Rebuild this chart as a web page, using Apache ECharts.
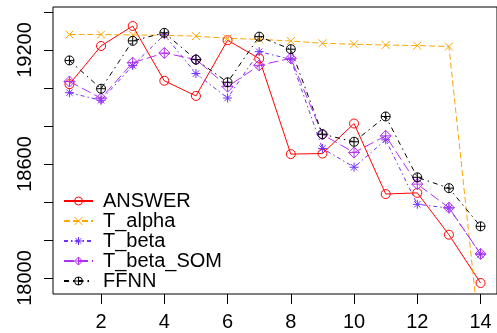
<!DOCTYPE html>
<html>
<head>
<meta charset="utf-8">
<script src="https://cdn.jsdelivr.net/npm/echarts@6/dist/echarts.min.js"></script>
<style>html,body{margin:0;padding:0;background:#fff}#c{width:497px;height:333px}</style>
</head>
<body>
<div id="c"></div>
<script>
var xs = [1,2,3,4,5,6,7,8,9,10,11,12,13,14];
var ANSWER = [19020,19221,19326,19038,18958,19251,19155,18652,18655,18813,18442,18448,18228,17974];
var T_alpha = [19281,19281,19279,19277,19273,19261,19256,19247,19235,19230,19226,19223,19218,17650];
var T_beta = [18975,18935,19118,19280,19076,18947,19191,19151,18682,18583,18727,18388,18368,18125];
var T_beta_SOM = [19034,18946,19133,19184,19150,19007,19119,19156,18755,18660,18748,18494,18370,18127];
var FFNN = [19145,18996,19248,19290,19149,19030,19270,19204,18757,18717,18850,18530,18473,18272];
var xTicks = [2,4,6,8,10,12,14];
var yTicks = [18000,18200,18400,18600,18800,19000,19200,19400];
var yLabels = [18000,18600,19200];
var names = ['ANSWER','T_alpha','T_beta','T_beta_SOM','FFNN'];

function pairs(arr){ return xs.map(function(x,i){ return [x, arr[i]]; }); }

var FONT = 'Liberation Sans';
var sym = {
  circle: 'path://M0,5A5,5,0,1,1,10,5A5,5,0,1,1,0,5Z',
  cross: 'path://M0,0L10,10M10,0L0,10',
  aster: 'path://M5,0L5,10M0,5L10,5M1.5,1.5L8.5,8.5M8.5,1.5L1.5,8.5',
  dplus: 'path://M5,0L10,5L5,10L0,5ZM0,5L10,5M5,0L5,10',
  cplus: 'path://M0,5A5,5,0,1,1,10,5A5,5,0,1,1,0,5ZM0,5L10,5M5,0L5,10'
};
function mk(name, data, color, symbol, size, dash){
  return {
    name: name, type: 'line', data: pairs(data),
    symbol: symbol, symbolSize: size, showSymbol: true,
    clip: true, animation: false,
    lineStyle: {color: color, width: 1, type: dash},
    itemStyle: {color: 'rgba(0,0,0,0)', borderColor: color, borderWidth: 1},
    emphasis: {disabled: true}
  };
}
var chart = echarts.init(document.getElementById('c'));
chart.setOption({
  animation: false,
  grid: {left: 53, right: -2, top: 7, bottom: 39, show: true, borderColor: '#000', borderWidth: 1, containLabel: false},
  legend: {
    orient: 'vertical', left: 58, top: 186, itemWidth: 29, itemHeight: 10, itemGap: 0,
    data: names,
    itemStyle: {color: 'rgba(0,0,0,0)', borderWidth: 1},
    textStyle: {fontFamily: FONT, fontSize: 20, color: '#000', lineHeight: 19.5, padding: [0,0,0,5]}
  },
  xAxis: {
    type: 'value', min: 0.48, max: 14.52,
    splitLine: {show: false},
    axisLine: {show: false},
    axisTick: {show: true, length: 10, inside: false, customValues: xTicks, lineStyle: {color: '#000'}},
    axisLabel: {customValues: xTicks, fontFamily: FONT, fontSize: 20, color: '#000', margin: 18}
  },
  yAxis: {
    type: 'value', min: 17916, max: 19426,
    splitLine: {show: false},
    axisLine: {show: false},
    axisTick: {show: true, length: 9, inside: false, customValues: yTicks, lineStyle: {color: '#000'}},
    axisLabel: {customValues: yLabels, fontFamily: FONT, fontSize: 20, color: '#000', rotate: 90, margin: 18,
      formatter: function(v){ return String(v); }}
  },
  series: [
    mk('ANSWER', ANSWER, '#ff0000', sym.circle, 9, 'solid'),
    mk('T_alpha', T_alpha, '#ffa500', sym.cross, 8, [6,3]),
    mk('T_beta', T_beta, '#7030ff', sym.aster, 9, [4,3,1.5,3]),
    mk('T_beta_SOM', T_beta_SOM, '#b030f0', sym.dplus, 11, [10,4]),
    mk('FFNN', FFNN, '#000000', sym.cplus, 9, [5,4,1.5,4])
  ]
});
</script>
</body>
</html>
